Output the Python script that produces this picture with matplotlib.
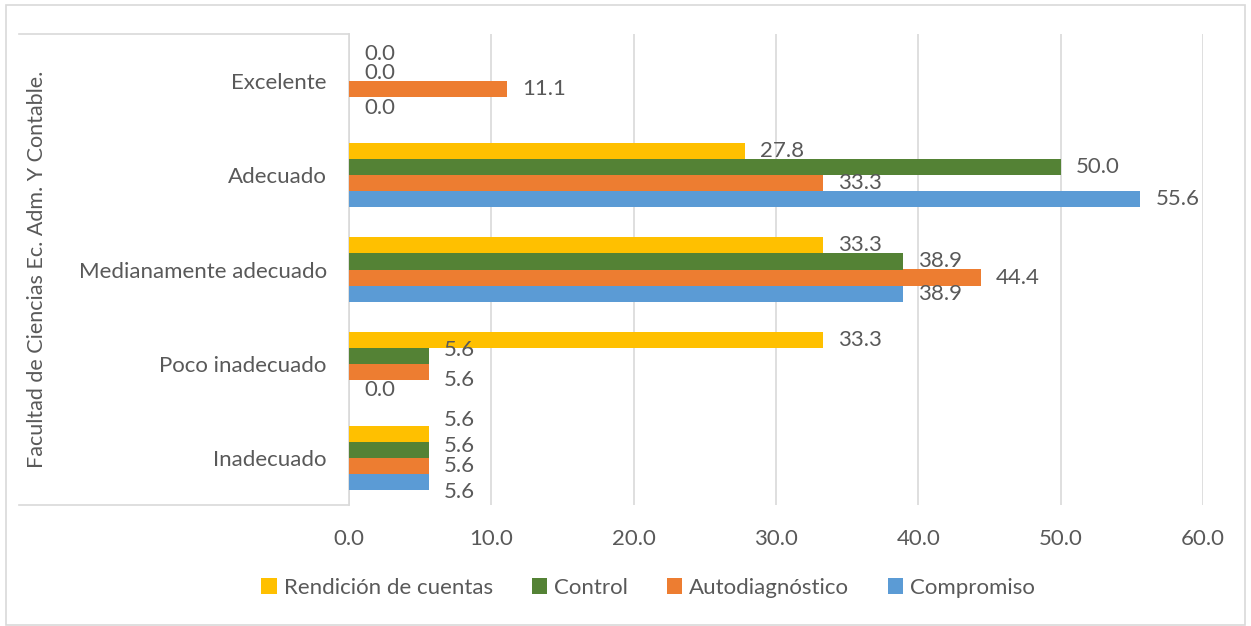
import matplotlib
matplotlib.use("Agg")
import matplotlib.pyplot as plt
from matplotlib.lines import Line2D
from matplotlib.patches import Rectangle
import numpy as np

plt.rcParams['font.family'] = ['Lato', 'DejaVu Sans']

categories = ["Inadecuado", "Poco inadecuado", "Medianamente adecuado", "Adecuado", "Excelente"]
compromiso = [5.6, 0.0, 38.9, 55.6, 0.0]
autodiagnostico = [5.6, 5.6, 44.4, 33.3, 11.1]
control = [5.6, 5.6, 38.9, 50.0, 0.0]
rendicion = [5.6, 33.3, 33.3, 27.8, 0.0]

series_names = ["Compromiso", "Autodiagnóstico", "Control", "Rendición de cuentas"]
series_values = [compromiso, autodiagnostico, control, rendicion]
colors = ["#5B9BD5", "#ED7D31", "#548235", "#FFC000"]

x_ticks = [0, 10, 20, 30, 40, 50, 60]
axis_title = "Facultad de Ciencias Ec. Adm. Y Contable."

# small vertical label nudges (points) mimicking the reference's label layout
label_nudge = {
    (0, 3): 10, (0, 2): 3, (0, 0): -7,
    (1, 2): 4, (1, 1): -6, (1, 0): -2,
    (4, 3): 2, (4, 0): -2,
}

TXT = "#595959"
GRID = "#D9D9D9"
FS = 16

fig = plt.figure(figsize=(12.51, 6.26), dpi=100)
W, H = 1251, 626
ax = fig.add_axes([349 / W, 1 - 505 / H, (1203 - 349) / W, (505 - 34) / H])

h = 0.17
y = np.arange(len(categories))
offsets = [-1.5 * h, -0.5 * h, 0.5 * h, 1.5 * h]
for s, (name, vals, col) in enumerate(zip(series_names, series_values, colors)):
    ax.barh(y + offsets[s], vals, height=h, color=col, label=name, zorder=3)
    for i, v in enumerate(vals):
        ax.annotate(f"{v:.1f}", xy=(v, y[i] + offsets[s]), xytext=(11, label_nudge.get((i, s), 0)),
                    textcoords="offset points", ha="left", va="center",
                    fontsize=FS, color=TXT, zorder=4)

ax.set_xlim(0, 60)
ax.set_ylim(-0.5, len(categories) - 0.5)
ax.set_xticks(x_ticks)
ax.set_xticklabels([f"{t:.1f}" for t in x_ticks])
ax.set_yticks(y)
ax.set_yticklabels(categories)
ax.tick_params(axis='both', length=0, labelsize=FS, colors=TXT)
ax.tick_params(axis='x', pad=17)
ax.tick_params(axis='y', pad=16)
ax.xaxis.grid(True, color=GRID, linewidth=1.2, zorder=0)
ax.set_axisbelow(True)
for sp in ["top", "right", "bottom"]:
    ax.spines[sp].set_visible(False)
ax.spines["left"].set_color(GRID)
ax.spines["left"].set_linewidth(1.2)

# category axis box lines
fig.add_artist(Line2D([19 / W, 349 / W], [1 - 34 / H, 1 - 34 / H], color=GRID, linewidth=1.2))
fig.add_artist(Line2D([19 / W, 349 / W], [1 - 505 / H, 1 - 505 / H], color=GRID, linewidth=1.2))

fig.text(37 / W, 1 - 269 / H, axis_title, rotation=90, ha="center", va="center",
         fontsize=15.5, color=TXT)

# outer chart border
fig.add_artist(Rectangle((6 / W, 0.002), (1245 - 6) / W, 1 - 5 / H - 0.002, fill=False,
                         edgecolor=GRID, linewidth=1.2, transform=fig.transFigure))

handles, labels = ax.get_legend_handles_labels()
order = [3, 2, 1, 0]
fig.legend([handles[k] for k in order], [labels[k] for k in order],
           loc="center", bbox_to_anchor=(648 / W, 1 - 588 / H), ncol=4, frameon=False,
           fontsize=FS, labelcolor=TXT, handlelength=0.7, handleheight=0.7,
           handletextpad=0.3, columnspacing=1.75)

fig.savefig("out.png", dpi=100)
